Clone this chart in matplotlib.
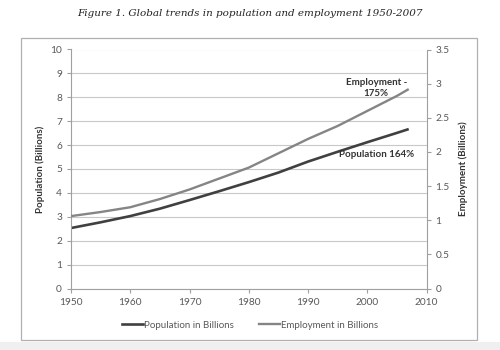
import matplotlib
matplotlib.use('Agg')
import matplotlib.pyplot as plt
from matplotlib.patches import Rectangle
from matplotlib.lines import Line2D

# values (billions)
years = [1950, 1955, 1960, 1965, 1970, 1975, 1980, 1985, 1990, 1995, 2000, 2005, 2007]
population = [2.53, 2.77, 3.03, 3.34, 3.70, 4.07, 4.45, 4.85, 5.31, 5.72, 6.12, 6.51, 6.67]
employment = [1.06, 1.12, 1.19, 1.31, 1.45, 1.61, 1.77, 1.98, 2.19, 2.38, 2.60, 2.82, 2.92]

title = 'Figure 1. Global trends in population and employment 1950-2007'
pop_col = '#404040'
emp_col = '#858585'
txt_col = '#595959'
grid_col = '#c8c8c8'

plt.rcParams['font.family'] = ['Lato', 'DejaVu Sans']

fig = plt.figure(figsize=(5, 3.5), dpi=100)
fig.patch.set_facecolor('white')

# outer chart frame and the grey strip under it
fig.patches.append(Rectangle((21/500, 1-340/350), 456/500, 302.5/350, transform=fig.transFigure,
                             fill=False, edgecolor='#b0b0b0', linewidth=0.9))
fig.patches.append(Rectangle((0, 0), 1, 8/350, transform=fig.transFigure,
                             facecolor='#efefef', edgecolor='none'))

fig.text(0.5, 1-14/350, title, ha='center', va='center', family='DejaVu Serif',
         style='italic', fontsize=7.5, color='#222222')

ax = fig.add_axes([71/500, 1-288.5/350, 355.5/500, 239/350])
ax2 = ax.twinx()

ax.plot(years, population, color=pop_col, linewidth=1.9, solid_capstyle='butt')
ax2.plot(years, employment, color=emp_col, linewidth=1.7, solid_capstyle='butt')

ax.set_xlim(1950, 2010)
ax.set_ylim(0, 10)
ax2.set_ylim(0, 3.5)
ax.set_xticks(range(1950, 2011, 10))
ax.set_yticks(range(0, 11))
ax2.set_yticks([0, 0.5, 1, 1.5, 2, 2.5, 3, 3.5])
ax2.set_yticklabels(['0', '0.5', '1', '1.5', '2', '2.5', '3', '3.5'])

ax.yaxis.grid(True, color=grid_col, linewidth=0.8)
ax.set_axisbelow(True)

for a in (ax, ax2):
    for s in a.spines.values():
        s.set_visible(False)
    a.tick_params(colors='#a0a0a0', labelcolor=txt_col, labelsize=7.3, length=3, width=0.8)
ax.spines['left'].set_visible(True)
ax.spines['bottom'].set_visible(True)
ax2.spines['right'].set_visible(True)
for s in (ax.spines['left'], ax.spines['bottom'], ax2.spines['right']):
    s.set_color('#a0a0a0')
    s.set_linewidth(0.8)

ax.set_ylabel('Population (Billions)', fontsize=7, fontweight='bold', color='#333333', labelpad=4)
ax2.set_ylabel('Employment (Billions)', fontsize=7, fontweight='bold', color='#333333', labelpad=6)

ax.text(2001.5, 8.4, 'Employment -\n175%', ha='center', va='center', fontsize=7,
        fontweight='bold', color='#333333', linespacing=1.25)
ax.text(2001.5, 5.6, 'Population 164%', ha='center', va='center', fontsize=7,
        fontweight='bold', color='#333333')

handles = [Line2D([], [], color=pop_col, linewidth=1.9),
           Line2D([], [], color=emp_col, linewidth=1.7)]
fig.legend(handles, ['Population in Billions', 'Employment in Billions'], loc='center',
           bbox_to_anchor=(0.5, 1-325/350), ncol=2, frameon=False, fontsize=7,
           labelcolor=txt_col, handlelength=2.2, handletextpad=0.1, columnspacing=2.5)

fig.savefig('out.png', dpi=100)
